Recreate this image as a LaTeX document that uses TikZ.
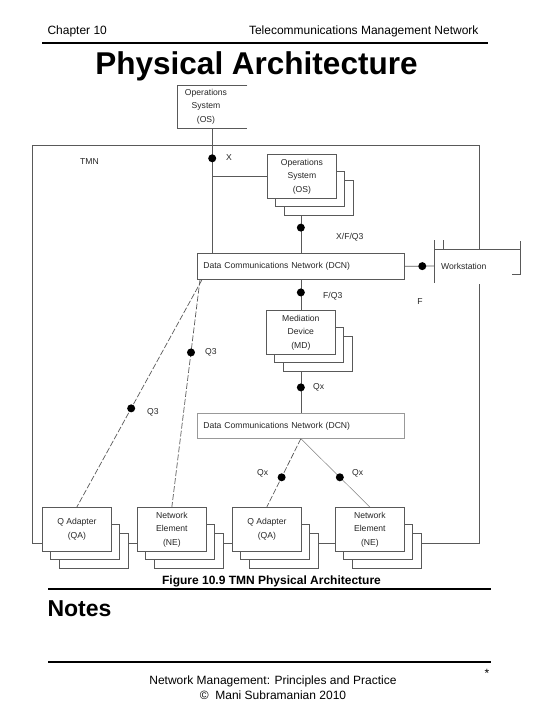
\documentclass[tikz,border=0pt]{standalone}
\usepackage{fontspec}
\setmainfont{Liberation Sans}
\usetikzlibrary{positioning}
\begin{document}
\begin{tikzpicture}[x=1pt,y=-1pt]
  % Define styles for boxes, dots and links
  \tikzset{
    front/.style={
      draw=black!65,
      fill=white,
      line width=0.7pt,
      minimum width=69pt,
      minimum height=44pt,
      inner sep=0pt,
      align=center,
      anchor=north west,
      font=\fontsize{8.6}{13.5}\selectfont,
      text=black!85
    },
    back/.style={
      draw=black!65,
      fill=white,
      line width=0.7pt,
      minimum width=69pt,
      minimum height=35pt,
      inner sep=0pt,
      anchor=north west
    },
    dcnbox/.style={
      draw=black!65,
      line width=0.7pt,
      text width=195pt,
      inner xsep=6pt,
      inner ysep=0pt,
      minimum height=26pt,
      align=left,
      anchor=north west,
      font=\fontsize{8.6}{10}\selectfont,
      text=black!85
    },
    dot/.style={circle, fill=black, inner sep=0pt, minimum size=8pt},
    lbl/.style={font=\fontsize{8.6}{10}\selectfont, text=black!85, inner sep=0pt},
    link/.style={draw=black!65, line width=0.7pt},
    dashlink/.style={link, dash pattern=on 6pt off 2pt}
  }
  \useasboundingbox (0,0) rectangle (540,720);

  % Page header
  \node[anchor=base west, font=\fontsize{12}{14}\selectfont] (chap) at (44,34) {Chapter 10};
  \node[anchor=base east, font=\fontsize{12}{14}\selectfont] (book) at (482,34) {Telecommunications Management Network};
  \draw[line width=2pt] (42,43) -- (488,43);
  \node[anchor=base, font=\fontsize{31.5}{38}\selectfont\bfseries] (title) at (256.5,74) {Physical Architecture};

  % Outside operations system
  \node[lbl, align=center, font=\fontsize{8.6}{13.5}\selectfont, minimum width=70pt, minimum height=43pt, anchor=north west] (os) at (177,85) {};
  \node[lbl, align=center, font=\fontsize{8.6}{13.5}\selectfont] (ostext) at (206,106.5) {Operations\\System\\(OS)};
  \draw[link] (os.north east) -- (os.north west) -- (os.south west) -- (os.south east);

  % TMN frame
  \coordinate (bus) at (0,543);
  \coordinate (wsl) at (434,266);
  \node[lbl, anchor=west] (tmn) at (80,162) {TMN};

  % Operations system stack
  \node[back] (os2c) at (284,180) {};
  \node[back] (os2b) at (275,171) {};
  \node[front] (os2) at (267,154) {Operations\\System\\(OS)};

  % Data communications networks
  \node[dcnbox] (dcn1) at (197,253) {Data Communications Network (DCN)};
  \node[dcnbox, draw=black!40, minimum height=25pt] (dcn2) at (197,413) {Data Communications Network (DCN)};

  % Mediation device stack
  \node[back] (mdc) at (283,336) {};
  \node[back] (mdb) at (274,327) {};
  \node[front] (md) at (266,310) {Mediation\\Device\\(MD)};

  % Bottom stacks: Q adapters and network elements
  \node[back] (qa1c) at (59,533) {};
  \node[back] (qa1b) at (50,524) {};
  \node[front] (qa1) at (42,507) {Q Adapter\\(QA)};
  \node[back] (ne1c) at (154,533) {};
  \node[back] (ne1b) at (145,524) {};
  \node[front] (ne1) at (137,507) {Network\\Element\\(NE)};
  \node[back] (qa2c) at (249,533) {};
  \node[back] (qa2b) at (240,524) {};
  \node[front] (qa2) at (232,507) {Q Adapter\\(QA)};
  \node[back] (ne2c) at (352,533) {};
  \node[back] (ne2b) at (343,524) {};
  \node[front] (ne2) at (335,507) {Network\\Element\\(NE)};

  % Workstation
  \node[lbl, anchor=west] (ws) at (441,266) {Workstation};
  \draw[link] (434,240) -- (434,283);
  \draw[link] (443,240) -- (443,249);
  \draw[link] (434,249) -- (521,249);
  \draw[link] (520,241) -- (520,275);
  \draw[link] (512,274) -- (520,274);

  % Frame and bus
  \draw[link] (479,249) -- (479,145) -- (32,145) -- (32,0 |- bus) -- (qa1.west |- bus);
  \draw[link] (479,284) -- (479,0 |- bus) -- (ne2c.east |- bus);
  \draw[link] (qa1c.east |- bus) -- (ne1.west |- bus);
  \draw[link] (ne1c.east |- bus) -- (qa2.west |- bus);
  \draw[link] (qa2c.east |- bus) -- (ne2.west |- bus);

  % Connect interfaces
  \draw[link] (os.south) -- node[dot, pos=0.24]{} (os.south |- dcn1.north);
  \draw[link] (os2.west) -- (os2.west -| os.south);
  \draw[link] (os2c.south -| dcn1.north) -- node[dot, pos=0.32]{} (dcn1.north);
  \draw[link] (dcn1.east) -- node[dot, pos=0.6]{} (wsl);
  \draw[link] (dcn1.south) -- node[dot, pos=0.42]{} (md.north);
  \draw[link] (md.south |- mdc.south) -- node[dot, pos=0.38]{} (dcn2.north);
  \coordinate (dcnA) at ([xshift=5pt]dcn1.south west);
  \coordinate (dcnB) at ([xshift=3pt]dcn1.south west);
  \draw[dashlink] (dcnA) -- node[dot, pos=0.566]{} (qa1.north);
  \draw[dashlink] (dcnB) -- node[dot, pos=0.32]{} (ne1.north);
  \draw[dashlink] (dcn2.south) -- node[dot, pos=0.565]{} (qa2.north);
  \draw[link, draw=black!50, line width=0.5pt] (dcn2.south) -- node[dot, pos=0.565]{} (ne2.north);

  % Interface labels
  \node[lbl, anchor=west] (lx) at (226,158) {X};
  \node[lbl, anchor=west] (lxfq) at (336,237) {X/F/Q3};
  \node[lbl] (lf) at (420,302) {F};
  \node[lbl, anchor=west] (lfq) at (323,296) {F/Q3};
  \node[lbl, anchor=west] (lqx) at (313,387) {Qx};
  \node[lbl, anchor=west] (lq3a) at (205,352) {Q3};
  \node[lbl, anchor=west] (lq3b) at (147,412) {Q3};
  \node[lbl, anchor=west] (lqxa) at (257,473) {Qx};
  \node[lbl, anchor=west] (lqxb) at (352,473) {Qx};

  % Caption and footer
  \node[anchor=base, font=\fontsize{12}{14}\selectfont\bfseries] (caption) at (271.5,584.5) {Figure 10.9 TMN Physical Architecture};
  \draw[line width=2pt] (48,588.5) -- (491,588.5);
  \node[anchor=base west, font=\fontsize{23}{26}\selectfont\bfseries] (notes) at (44,616) {Notes};
  \draw[line width=2pt] (48,662) -- (491,662);
  \node[anchor=base, font=\fontsize{12}{14}\selectfont] (star) at (487,677) {*};
  \node[anchor=base, font=\fontsize{12}{14}\selectfont] (foot1) at (273,684.5) {Network Management: Principles and Practice};
  \node[anchor=base, font=\fontsize{12}{14}\selectfont] (foot2) at (273,699) {©\ \ Mani Subramanian 2010};
\end{tikzpicture}
\end{document}
